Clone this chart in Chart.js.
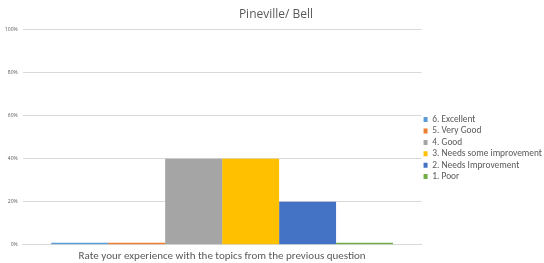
<!DOCTYPE html>
<html>
<head>
<meta charset="utf-8">
<script src="https://cdn.jsdelivr.net/npm/chart.js@4"></script>
<style>
    html, body { margin: 0; padding: 0; background: #ffffff; }
    #wrap { width: 544px; height: 263px; position: relative; }
</style>
</head>
<body>
<div id="wrap"><canvas id="j_grafico"></canvas></div>
<script>
var categorias = ["Rate your experience with the topics from the previous question"];
var respostas = ["6. Excellent", "5. Very Good", "4. Good", "3. Needs some improvement", "2. Needs Improvement", "1. Poor"];
var valores = [1, 1, 40, 40, 20, 1];
var cores = ["#5B9BD5", "#ED7D31", "#A5A5A5", "#FFC000", "#4472C4", "#70AD47"];
var ticksY = [0, 20, 40, 60, 80, 100];

var datasets = respostas.map(function (nome, i) {
    return {
        label: nome,
        data: [valores[i]],
        backgroundColor: cores[i],
        borderWidth: 0,
        categoryPercentage: 0.857,
        barPercentage: 1.0,
    };
});

new Chart(document.getElementById("j_grafico"), {
    type: "bar",
    data: {
        labels: categorias,
        datasets: datasets,
    },
    options: {
        responsive: true,
        maintainAspectRatio: false,
        animation: false,
        layout: {
            padding: { left: 0, right: -8, top: 3, bottom: -5 },
        },
        scales: {
            x: {
                grid: { display: false, drawTicks: false },
                border: { color: "#d9d9d9" },
                ticks: {
                    color: "#595959",
                    font: { family: "Carlito, 'Open Sans', sans-serif", size: 11 },
                    padding: 5,
                },
            },
            y: {
                min: 0,
                max: 100,
                afterBuildTicks: function (axis) {
                    axis.ticks = ticksY.map(function (v) { return { value: v }; });
                },
                grid: { color: "#d9d9d9", drawTicks: false },
                border: { display: false },
                ticks: {
                    color: "#595959",
                    padding: 5,
                    font: { family: "'Open Sans', sans-serif", size: 5 },
                    callback: function (value) {
                        return value + "%";
                    },
                },
            },
        },
        plugins: {
            title: {
                display: true,
                text: "Pineville/ Bell",
                color: "#595959",
                font: { family: "'Open Sans', sans-serif", size: 12, weight: "normal" },
                padding: { top: 4, bottom: 8 },
            },
            legend: {
                position: "right",
                align: "center",
                title: {
                    display: true,
                    text: " ",
                    font: { size: 1 },
                    padding: { top: 24, bottom: 0 },
                },
                labels: {
                    boxWidth: 4,
                    boxHeight: 5,
                    padding: 2,
                    color: "#595959",
                    font: { family: "Carlito, 'Open Sans', sans-serif", size: 9.4 },
                },
            },
            tooltip: { enabled: false },
        },
    },
});
</script>
</body>
</html>
